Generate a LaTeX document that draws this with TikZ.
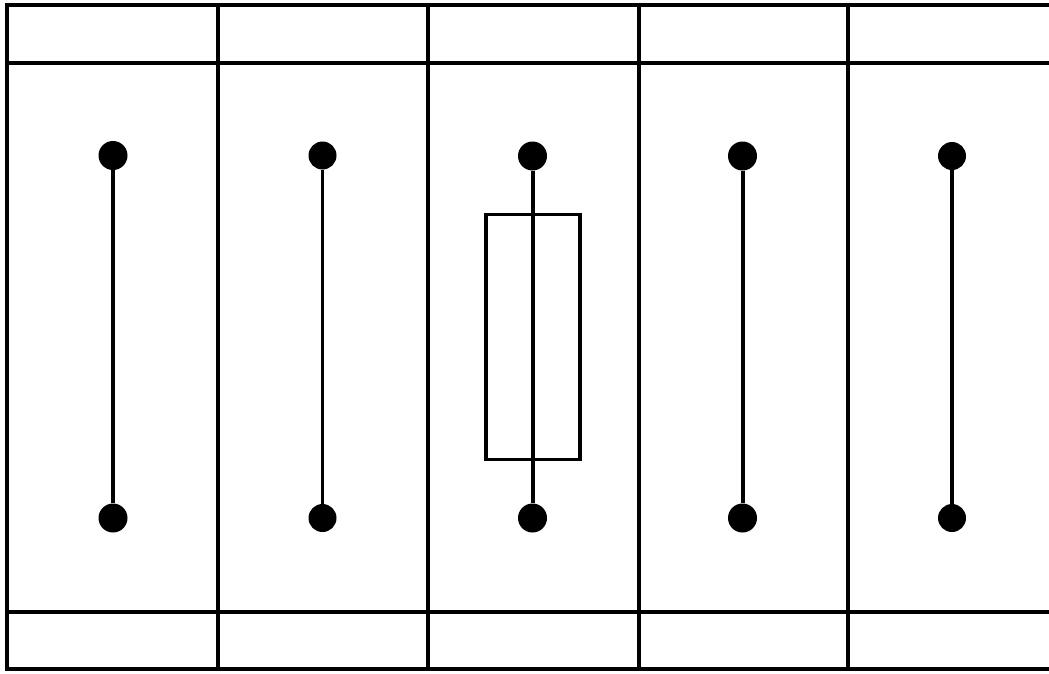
\documentclass[tikz,border=0pt]{standalone}
\begin{document}
\begin{tikzpicture}[x=1pt,y=-1pt,
  frame/.style={line width=4.5pt},
  grid/.style={line width=4pt},
  hline/.style={line width=4pt},
  dot/.style={circle,fill=black,inner sep=0pt,minimum size=29pt},
  wire/.style={line width=4pt},
  fuse/.style={draw,line width=3.5pt,inner sep=0pt,minimum width=94pt,minimum height=245pt}]
\useasboundingbox (0,0) rectangle (1049,673);
% frame
\draw[frame] (1052,5) -- (7,5) -- (7,669) -- (1052,669);
\draw[hline] (7,62.5) -- (1052,62.5);
\draw[hline] (7,611.5) -- (1052,611.5);
\foreach \x in {218,428,638.5} \draw[grid] (\x,5) -- (\x,669);
\draw[grid,line width=3.5pt] (848,5) -- (848,669);
% fuse box
\node[fuse] (fz) at (533,337) {};
% terminals
\node[dot] (t1) at (113,155.5) {};
\node[dot] (b1) at (113,518) {};
\node[dot,minimum size=28pt] (t2) at (322.5,155.5) {};
\node[dot,minimum size=28pt] (b2) at (322.5,518) {};
\node[dot] (t3) at (532.5,156) {};
\node[dot] (b3) at (532.5,518) {};
\node[dot] (t4) at (742.5,156) {};
\node[dot] (b4) at (742.5,518) {};
\node[dot,minimum size=28pt] (t5) at (952,156) {};
\node[dot,minimum size=28pt] (b5) at (952,518) {};
\draw[wire,line width=4.5pt] (t1) -- (b1);
\draw[wire,line width=3pt] (t2) -- (b2);
\draw[wire] (t3) -- (b3);
\draw[wire] (t4) -- (b4);
\draw[wire] (t5) -- (b5);
\end{tikzpicture}
\end{document}
